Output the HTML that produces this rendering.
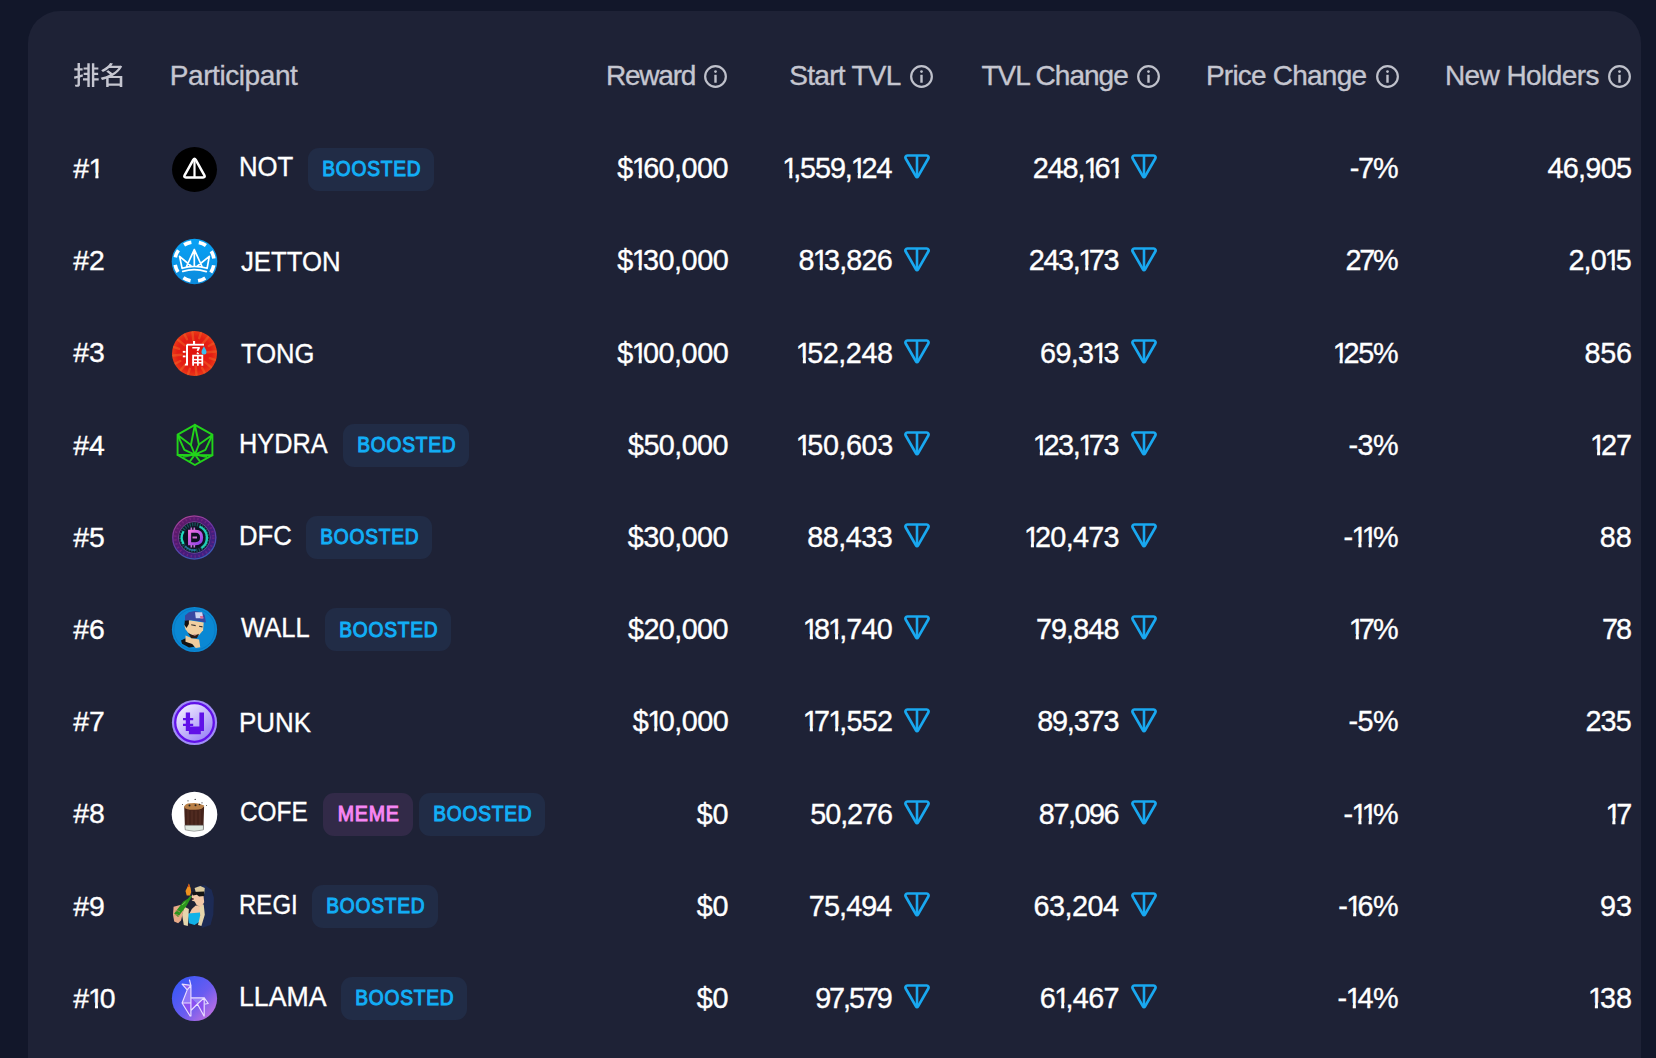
<!DOCTYPE html><html><head><meta charset="utf-8"><style>
html,body{margin:0;padding:0}
body{width:1656px;height:1058px;overflow:hidden;background:#12172a;position:relative;font-family:"Liberation Sans",sans-serif}
.card{position:absolute;left:27.5px;top:11px;width:1613px;height:1200px;background:#1e2236;border-radius:32px}
.t{position:absolute;white-space:nowrap;transform-origin:0 0;-webkit-text-stroke:0.35px currentColor;line-height:28px;height:28px;color:#fff}
.h{font-size:28px;color:#c5c6d0}
.rk{font-size:28.4px}
.nm{font-size:28px}
.num{font-size:28.8px}
i.o{font-style:normal;display:inline-block;margin:0 -4.1px 0 -1.0px}
svg{position:absolute;overflow:visible}
.bd span{display:inline-block;transform-origin:50% 50%;position:relative;top:-0.8px}
.bd{position:absolute;height:43px;border-radius:11px;font-size:22px;line-height:43px;font-weight:normal;-webkit-text-stroke:1.1px currentColor;letter-spacing:0.9px;text-indent:0.9px;text-align:center;white-space:nowrap}
.bb{width:126.2px;background:#212c46;color:#12aef6}
.bm{width:90.3px;background:#322a48;color:#f786f4}
</style></head><body><div class="card"></div>
<svg role="img" aria-label="排名" style="left:74.2px;top:63px" width="48.3" height="24.1" viewBox="37 32 1816 933" preserveAspectRatio="none"><path d="M170 36V233H49V321H170V523L37 556L53 648L170 616V853C170 866 166 870 153 871C142 871 103 871 65 870C76 894 88 932 92 955C155 955 196 953 224 938C252 924 261 900 261 853V590L374 558L362 472L261 499V321H361V233H261V36ZM376 622V707H538V963H629V45H538V202H397V285H538V412H400V495H538V622ZM710 45V965H801V710H965V624H801V495H945V412H801V285H953V202H801V45Z M1251 362C1296 395 1350 439 1392 477C1281 534 1159 575 1039 599C1056 620 1078 661 1088 686C1141 674 1194 658 1246 640V963H1340V915H1756V964H1853V531H1488C1642 442 1773 322 1850 169L1785 130L1769 135H1442C1464 108 1484 81 1503 54L1396 32C1336 127 1223 233 1060 308C1081 325 1111 360 1125 383C1217 335 1294 280 1359 221H1708C1652 301 1572 370 1480 428C1435 388 1374 342 1325 308ZM1756 829H1340V617H1756Z" fill="#c5c6d0"/></svg>
<svg style="left:703.90px;top:65px" width="23" height="23" viewBox="0 0 23 23"><circle cx="11.5" cy="11.5" r="10.35" fill="none" stroke="#bfc1cb" stroke-width="2.2"/><rect x="10.3" y="9.8" width="2.4" height="7.9" rx="0.3" fill="#bfc1cb"/><circle cx="11.5" cy="6.6" r="1.35" fill="#bfc1cb"/></svg>
<svg style="left:909.90px;top:65px" width="23" height="23" viewBox="0 0 23 23"><circle cx="11.5" cy="11.5" r="10.35" fill="none" stroke="#bfc1cb" stroke-width="2.2"/><rect x="10.3" y="9.8" width="2.4" height="7.9" rx="0.3" fill="#bfc1cb"/><circle cx="11.5" cy="6.6" r="1.35" fill="#bfc1cb"/></svg>
<svg style="left:1136.60px;top:65px" width="23" height="23" viewBox="0 0 23 23"><circle cx="11.5" cy="11.5" r="10.35" fill="none" stroke="#bfc1cb" stroke-width="2.2"/><rect x="10.3" y="9.8" width="2.4" height="7.9" rx="0.3" fill="#bfc1cb"/><circle cx="11.5" cy="6.6" r="1.35" fill="#bfc1cb"/></svg>
<svg style="left:1375.70px;top:65px" width="23" height="23" viewBox="0 0 23 23"><circle cx="11.5" cy="11.5" r="10.35" fill="none" stroke="#bfc1cb" stroke-width="2.2"/><rect x="10.3" y="9.8" width="2.4" height="7.9" rx="0.3" fill="#bfc1cb"/><circle cx="11.5" cy="6.6" r="1.35" fill="#bfc1cb"/></svg>
<svg style="left:1607.70px;top:65px" width="23" height="23" viewBox="0 0 23 23"><circle cx="11.5" cy="11.5" r="10.35" fill="none" stroke="#bfc1cb" stroke-width="2.2"/><rect x="10.3" y="9.8" width="2.4" height="7.9" rx="0.3" fill="#bfc1cb"/><circle cx="11.5" cy="6.6" r="1.35" fill="#bfc1cb"/></svg>
<div class="t h" style="left:169.79px;top:61.90px;letter-spacing:-0.423px">Participant</div>
<div class="t h" style="left:605.95px;top:61.90px;letter-spacing:-1.203px">Reward</div>
<div class="t h" style="left:789.34px;top:61.90px;letter-spacing:-0.712px">Start TVL</div>
<div class="t h" style="left:981.47px;top:61.90px;letter-spacing:-0.990px">TVL Change</div>
<div class="t h" style="left:1205.95px;top:61.90px;letter-spacing:-0.780px">Price Change</div>
<div class="t h" style="left:1444.95px;top:61.90px;letter-spacing:-0.583px">New Holders</div>
<div class="t rk" style="left:73.21px;top:154.00px;letter-spacing:0.546px">#<i class="o" style="clip-path:polygon(-6px -6px,22px -6px,22px 18.72px,9.90px 18.72px,9.90px 40px,6.89px 40px,6.89px 18.72px,-6px 18.72px)">1</i></div>
<div class="t nm" style="left:238.86px;top:153.00px;transform:scaleX(0.9191)">NOT</div>
<div class="t num" style="left:617.27px;top:154.20px;letter-spacing:-0.533px">$<i class="o" style="clip-path:polygon(-6px -6px,22px -6px,22px 18.83px,10.04px 18.83px,10.04px 40px,6.99px 40px,6.99px 18.83px,-6px 18.83px)">1</i>60,000</div>
<div class="t num" style="left:783.31px;top:154.20px;letter-spacing:-1.086px"><i class="o" style="clip-path:polygon(-6px -6px,22px -6px,22px 18.83px,10.04px 18.83px,10.04px 40px,6.99px 40px,6.99px 18.83px,-6px 18.83px)">1</i>,559,<i class="o" style="clip-path:polygon(-6px -6px,22px -6px,22px 18.83px,10.04px 18.83px,10.04px 40px,6.99px 40px,6.99px 18.83px,-6px 18.83px)">1</i>24</div>
<div class="t num" style="left:1032.66px;top:154.20px;letter-spacing:-1.039px">248,<i class="o" style="clip-path:polygon(-6px -6px,22px -6px,22px 18.83px,10.04px 18.83px,10.04px 40px,6.99px 40px,6.99px 18.83px,-6px 18.83px)">1</i>6<i class="o" style="clip-path:polygon(-6px -6px,22px -6px,22px 18.83px,10.04px 18.83px,10.04px 40px,6.99px 40px,6.99px 18.83px,-6px 18.83px)">1</i></div>
<div class="t num" style="left:1349.73px;top:154.20px;letter-spacing:-1.192px">-7%</div>
<div class="t num" style="left:1547.45px;top:154.20px;letter-spacing:-0.713px">46,905</div>
<div class="t rk" style="left:73.21px;top:246.19px;letter-spacing:0.000px">#2</div>
<div class="t nm" style="left:241.09px;top:247.69px;transform:scaleX(0.9194)">JETTON</div>
<div class="t num" style="left:617.16px;top:246.39px;letter-spacing:-0.501px">$<i class="o" style="clip-path:polygon(-6px -6px,22px -6px,22px 18.83px,10.04px 18.83px,10.04px 40px,6.99px 40px,6.99px 18.83px,-6px 18.83px)">1</i>30,000</div>
<div class="t num" style="left:798.56px;top:246.39px;letter-spacing:-0.791px">8<i class="o" style="clip-path:polygon(-6px -6px,22px -6px,22px 18.83px,10.04px 18.83px,10.04px 40px,6.99px 40px,6.99px 18.83px,-6px 18.83px)">1</i>3,826</div>
<div class="t num" style="left:1028.83px;top:246.39px;letter-spacing:-1.400px">243,<i class="o" style="clip-path:polygon(-6px -6px,22px -6px,22px 18.83px,10.04px 18.83px,10.04px 40px,6.99px 40px,6.99px 18.83px,-6px 18.83px)">1</i>73</div>
<div class="t num" style="left:1345.39px;top:246.39px;letter-spacing:-2.152px">27%</div>
<div class="t num" style="left:1568.53px;top:246.39px;letter-spacing:-0.926px">2,0<i class="o" style="clip-path:polygon(-6px -6px,22px -6px,22px 18.83px,10.04px 18.83px,10.04px 40px,6.99px 40px,6.99px 18.83px,-6px 18.83px)">1</i>5</div>
<div class="t rk" style="left:73.21px;top:338.38px;letter-spacing:0.000px">#3</div>
<div class="t nm" style="left:241.10px;top:339.88px;transform:scaleX(0.9135)">TONG</div>
<div class="t num" style="left:617.16px;top:338.58px;letter-spacing:-0.501px">$<i class="o" style="clip-path:polygon(-6px -6px,22px -6px,22px 18.83px,10.04px 18.83px,10.04px 40px,6.99px 40px,6.99px 18.83px,-6px 18.83px)">1</i>00,000</div>
<div class="t num" style="left:796.86px;top:338.58px;letter-spacing:-0.485px"><i class="o" style="clip-path:polygon(-6px -6px,22px -6px,22px 18.83px,10.04px 18.83px,10.04px 40px,6.99px 40px,6.99px 18.83px,-6px 18.83px)">1</i>52,248</div>
<div class="t num" style="left:1040.10px;top:338.58px;letter-spacing:-0.730px">69,3<i class="o" style="clip-path:polygon(-6px -6px,22px -6px,22px 18.83px,10.04px 18.83px,10.04px 40px,6.99px 40px,6.99px 18.83px,-6px 18.83px)">1</i>3</div>
<div class="t num" style="left:1333.63px;top:338.58px;letter-spacing:-1.179px"><i class="o" style="clip-path:polygon(-6px -6px,22px -6px,22px 18.83px,10.04px 18.83px,10.04px 40px,6.99px 40px,6.99px 18.83px,-6px 18.83px)">1</i>25%</div>
<div class="t num" style="left:1584.45px;top:338.58px;letter-spacing:-0.206px">856</div>
<div class="t rk" style="left:73.21px;top:430.57px;letter-spacing:0.000px">#4</div>
<div class="t nm" style="left:239.47px;top:429.57px;transform:scaleX(0.9042)">HYDRA</div>
<div class="t num" style="left:628.03px;top:430.77px;letter-spacing:-0.595px">$50,000</div>
<div class="t num" style="left:796.86px;top:430.77px;letter-spacing:-0.452px"><i class="o" style="clip-path:polygon(-6px -6px,22px -6px,22px 18.83px,10.04px 18.83px,10.04px 40px,6.99px 40px,6.99px 18.83px,-6px 18.83px)">1</i>50,603</div>
<div class="t num" style="left:1033.83px;top:430.77px;letter-spacing:-1.375px"><i class="o" style="clip-path:polygon(-6px -6px,22px -6px,22px 18.83px,10.04px 18.83px,10.04px 40px,6.99px 40px,6.99px 18.83px,-6px 18.83px)">1</i>23,<i class="o" style="clip-path:polygon(-6px -6px,22px -6px,22px 18.83px,10.04px 18.83px,10.04px 40px,6.99px 40px,6.99px 18.83px,-6px 18.83px)">1</i>73</div>
<div class="t num" style="left:1348.40px;top:430.77px;letter-spacing:-0.462px">-3%</div>
<div class="t num" style="left:1591.11px;top:430.77px;letter-spacing:-1.058px"><i class="o" style="clip-path:polygon(-6px -6px,22px -6px,22px 18.83px,10.04px 18.83px,10.04px 40px,6.99px 40px,6.99px 18.83px,-6px 18.83px)">1</i>27</div>
<div class="t rk" style="left:73.21px;top:522.76px;letter-spacing:0.000px">#5</div>
<div class="t nm" style="left:239.04px;top:521.76px;transform:scaleX(0.9167)">DFC</div>
<div class="t num" style="left:627.76px;top:522.96px;letter-spacing:-0.547px">$30,000</div>
<div class="t num" style="left:807.17px;top:522.96px;letter-spacing:-0.483px">88,433</div>
<div class="t num" style="left:1024.90px;top:522.96px;letter-spacing:-0.742px"><i class="o" style="clip-path:polygon(-6px -6px,22px -6px,22px 18.83px,10.04px 18.83px,10.04px 40px,6.99px 40px,6.99px 18.83px,-6px 18.83px)">1</i>20,473</div>
<div class="t num" style="left:1343.52px;top:522.96px;letter-spacing:-0.688px">-<i class="o" style="clip-path:polygon(-6px -6px,22px -6px,22px 18.83px,10.04px 18.83px,10.04px 40px,6.99px 40px,6.99px 18.83px,-6px 18.83px)">1</i><i class="o" style="clip-path:polygon(-6px -6px,22px -6px,22px 18.83px,10.04px 18.83px,10.04px 40px,6.99px 40px,6.99px 18.83px,-6px 18.83px)">1</i>%</div>
<div class="t num" style="left:1599.87px;top:522.96px;letter-spacing:-0.067px">88</div>
<div class="t rk" style="left:73.21px;top:614.95px;letter-spacing:0.000px">#6</div>
<div class="t nm" style="left:241.10px;top:613.95px;transform:scaleX(0.9119)">WALL</div>
<div class="t num" style="left:628.03px;top:615.15px;letter-spacing:-0.595px">$20,000</div>
<div class="t num" style="left:803.84px;top:615.15px;letter-spacing:-0.845px"><i class="o" style="clip-path:polygon(-6px -6px,22px -6px,22px 18.83px,10.04px 18.83px,10.04px 40px,6.99px 40px,6.99px 18.83px,-6px 18.83px)">1</i>8<i class="o" style="clip-path:polygon(-6px -6px,22px -6px,22px 18.83px,10.04px 18.83px,10.04px 40px,6.99px 40px,6.99px 18.83px,-6px 18.83px)">1</i>,740</div>
<div class="t num" style="left:1035.90px;top:615.15px;letter-spacing:-0.909px">79,848</div>
<div class="t num" style="left:1349.77px;top:615.15px;letter-spacing:-1.904px"><i class="o" style="clip-path:polygon(-6px -6px,22px -6px,22px 18.83px,10.04px 18.83px,10.04px 40px,6.99px 40px,6.99px 18.83px,-6px 18.83px)">1</i>7%</div>
<div class="t num" style="left:1602.09px;top:615.15px;letter-spacing:-2.186px">78</div>
<div class="t rk" style="left:73.21px;top:707.14px;letter-spacing:0.000px">#7</div>
<div class="t nm" style="left:238.87px;top:708.64px;transform:scaleX(0.9258)">PUNK</div>
<div class="t num" style="left:632.79px;top:707.34px;letter-spacing:-0.512px">$<i class="o" style="clip-path:polygon(-6px -6px,22px -6px,22px 18.83px,10.04px 18.83px,10.04px 40px,6.99px 40px,6.99px 18.83px,-6px 18.83px)">1</i>0,000</div>
<div class="t num" style="left:803.84px;top:707.34px;letter-spacing:-0.800px"><i class="o" style="clip-path:polygon(-6px -6px,22px -6px,22px 18.83px,10.04px 18.83px,10.04px 40px,6.99px 40px,6.99px 18.83px,-6px 18.83px)">1</i>7<i class="o" style="clip-path:polygon(-6px -6px,22px -6px,22px 18.83px,10.04px 18.83px,10.04px 40px,6.99px 40px,6.99px 18.83px,-6px 18.83px)">1</i>,552</div>
<div class="t num" style="left:1037.17px;top:707.34px;letter-spacing:-1.167px">89,373</div>
<div class="t num" style="left:1348.40px;top:707.34px;letter-spacing:-0.462px">-5%</div>
<div class="t num" style="left:1585.39px;top:707.34px;letter-spacing:-0.832px">235</div>
<div class="t rk" style="left:73.21px;top:799.33px;letter-spacing:0.000px">#8</div>
<div class="t nm" style="left:240.27px;top:798.33px;transform:scaleX(0.8707)">COFE</div>
<div class="t num" style="left:696.67px;top:799.53px;letter-spacing:-0.135px">$0</div>
<div class="t num" style="left:810.36px;top:799.53px;letter-spacing:-1.093px">50,276</div>
<div class="t num" style="left:1038.87px;top:799.53px;letter-spacing:-1.494px">87,096</div>
<div class="t num" style="left:1343.52px;top:799.53px;letter-spacing:-0.688px">-<i class="o" style="clip-path:polygon(-6px -6px,22px -6px,22px 18.83px,10.04px 18.83px,10.04px 40px,6.99px 40px,6.99px 18.83px,-6px 18.83px)">1</i><i class="o" style="clip-path:polygon(-6px -6px,22px -6px,22px 18.83px,10.04px 18.83px,10.04px 40px,6.99px 40px,6.99px 18.83px,-6px 18.83px)">1</i>%</div>
<div class="t num" style="left:1606.39px;top:799.53px;letter-spacing:-1.151px"><i class="o" style="clip-path:polygon(-6px -6px,22px -6px,22px 18.83px,10.04px 18.83px,10.04px 40px,6.99px 40px,6.99px 18.83px,-6px 18.83px)">1</i>7</div>
<div class="t rk" style="left:73.21px;top:891.52px;letter-spacing:0.000px">#9</div>
<div class="t nm" style="left:239.43px;top:890.52px;transform:scaleX(0.8587)">REGI</div>
<div class="t num" style="left:696.67px;top:891.72px;letter-spacing:-0.135px">$0</div>
<div class="t num" style="left:808.86px;top:891.72px;letter-spacing:-0.920px">75,494</div>
<div class="t num" style="left:1033.42px;top:891.72px;letter-spacing:-0.495px">63,204</div>
<div class="t num" style="left:1338.22px;top:891.72px;letter-spacing:-0.614px">-<i class="o" style="clip-path:polygon(-6px -6px,22px -6px,22px 18.83px,10.04px 18.83px,10.04px 40px,6.99px 40px,6.99px 18.83px,-6px 18.83px)">1</i>6%</div>
<div class="t num" style="left:1600.07px;top:891.72px;letter-spacing:-0.062px">93</div>
<div class="t rk" style="left:73.21px;top:983.71px;letter-spacing:0.085px">#<i class="o" style="clip-path:polygon(-6px -6px,22px -6px,22px 18.72px,9.90px 18.72px,9.90px 40px,6.89px 40px,6.89px 18.72px,-6px 18.72px)">1</i>0</div>
<div class="t nm" style="left:239.12px;top:982.71px;transform:scaleX(0.9525)">LLAMA</div>
<div class="t num" style="left:696.67px;top:983.91px;letter-spacing:-0.135px">$0</div>
<div class="t num" style="left:815.13px;top:983.91px;letter-spacing:-2.086px">97,579</div>
<div class="t num" style="left:1039.83px;top:983.91px;letter-spacing:-0.641px">6<i class="o" style="clip-path:polygon(-6px -6px,22px -6px,22px 18.83px,10.04px 18.83px,10.04px 40px,6.99px 40px,6.99px 18.83px,-6px 18.83px)">1</i>,467</div>
<div class="t num" style="left:1337.52px;top:983.91px;letter-spacing:-0.322px">-<i class="o" style="clip-path:polygon(-6px -6px,22px -6px,22px 18.83px,10.04px 18.83px,10.04px 40px,6.99px 40px,6.99px 18.83px,-6px 18.83px)">1</i>4%</div>
<div class="t num" style="left:1588.90px;top:983.91px;letter-spacing:0.050px"><i class="o" style="clip-path:polygon(-6px -6px,22px -6px,22px 18.83px,10.04px 18.83px,10.04px 40px,6.99px 40px,6.99px 18.83px,-6px 18.83px)">1</i>38</div>
<svg style="left:171.90px;top:146.50px" width="45" height="45" viewBox="0 0 45 45"><circle cx="22.5" cy="22.5" r="22.5" fill="#000"/><path d="M21.2 12.9Q22.5 10.7 23.8 12.9L32.4 28.3Q33.4 30.4 31.1 30.4H13.9Q11.6 30.4 12.6 28.3Z" fill="none" stroke="#fff" stroke-width="2.5" stroke-linejoin="round"/><path d="M22.5 12.5V30.4" stroke="#fff" stroke-width="2.2"/></svg>
<svg style="left:903.5px;top:154.4px" width="26" height="25" viewBox="0 0 26 25"><path d="M3.3 1.5H22.7C24.3 1.5 25.1 3.2 24.3 4.5L13.9 22.7C13.5 23.4 12.5 23.4 12.1 22.7L1.7 4.5C0.9 3.2 1.7 1.5 3.3 1.5Z" fill="none" stroke="#19a8f0" stroke-width="2.7" stroke-linejoin="round"/><path d="M13 2V22.8" stroke="#19a8f0" stroke-width="2.6"/></svg>
<svg style="left:1130.5px;top:154.4px" width="26" height="25" viewBox="0 0 26 25"><path d="M3.3 1.5H22.7C24.3 1.5 25.1 3.2 24.3 4.5L13.9 22.7C13.5 23.4 12.5 23.4 12.1 22.7L1.7 4.5C0.9 3.2 1.7 1.5 3.3 1.5Z" fill="none" stroke="#19a8f0" stroke-width="2.7" stroke-linejoin="round"/><path d="M13 2V22.8" stroke="#19a8f0" stroke-width="2.6"/></svg>
<div class="bd bb" style="left:308px;top:147.50px"><span style="transform:scaleX(0.8700)">BOOSTED</span></div>
<svg style="left:171.90px;top:238.69px" width="45" height="45" viewBox="0 0 45 45"><defs><linearGradient id="jg" x1="0" y1="0" x2="0" y2="1"><stop offset="0" stop-color="#08a2f6"/><stop offset="1" stop-color="#0b8bdc"/></linearGradient></defs><circle cx="22.5" cy="22.5" r="22.8" fill="url(#jg)"/><circle cx="22.5" cy="22.5" r="19.6" fill="none" stroke="#fff" stroke-width="3.6" stroke-dasharray="7.697 7.697" stroke-dashoffset="-3.848"/><path d="M7.6 17.4L10.1 29.3M7.6 17.4L19 27M22.3 10.6L14.5 27.5M22.3 10.6L30 27.5M22.3 11V26.5M37.3 17.4L35.1 29.3M37.3 17.4L25.5 27M10.1 29.3Q22.3 25.3 35.1 29.3M10.8 32.4Q22.3 28.8 34.3 32.6" fill="none" stroke="#fff" stroke-width="1.7" stroke-linecap="round" stroke-linejoin="round"/></svg>
<svg style="left:903.5px;top:246.59px" width="26" height="25" viewBox="0 0 26 25"><path d="M3.3 1.5H22.7C24.3 1.5 25.1 3.2 24.3 4.5L13.9 22.7C13.5 23.4 12.5 23.4 12.1 22.7L1.7 4.5C0.9 3.2 1.7 1.5 3.3 1.5Z" fill="none" stroke="#19a8f0" stroke-width="2.7" stroke-linejoin="round"/><path d="M13 2V22.8" stroke="#19a8f0" stroke-width="2.6"/></svg>
<svg style="left:1130.5px;top:246.59px" width="26" height="25" viewBox="0 0 26 25"><path d="M3.3 1.5H22.7C24.3 1.5 25.1 3.2 24.3 4.5L13.9 22.7C13.5 23.4 12.5 23.4 12.1 22.7L1.7 4.5C0.9 3.2 1.7 1.5 3.3 1.5Z" fill="none" stroke="#19a8f0" stroke-width="2.7" stroke-linejoin="round"/><path d="M13 2V22.8" stroke="#19a8f0" stroke-width="2.6"/></svg>
<svg style="left:171.90px;top:330.88px" width="45" height="45" viewBox="0 0 45 45"><defs><radialGradient id="tg" cx="0.5" cy="0.5" r="0.5"><stop offset="0" stop-color="#e0140e"/><stop offset="0.75" stop-color="#e41e14"/><stop offset="1" stop-color="#ea3a18"/></radialGradient></defs><circle cx="22.5" cy="22.5" r="22.5" fill="url(#tg)"/><g stroke="#f4702a" stroke-width="2.4" opacity="0.45" stroke-linecap="round"><line x1="37.8" y1="27.2" x2="43.0" y2="28.9"/><line x1="32.5" y1="30.8" x2="39.0" y2="36.2"/><line x1="30.0" y1="36.7" x2="32.5" y2="41.5"/><line x1="23.7" y1="35.4" x2="24.5" y2="43.9"/><line x1="17.8" y1="37.8" x2="16.1" y2="43.0"/><line x1="14.2" y1="32.5" x2="8.8" y2="39.0"/><line x1="8.3" y1="30.0" x2="3.5" y2="32.5"/><line x1="9.6" y1="23.7" x2="1.1" y2="24.5"/><line x1="7.2" y1="17.8" x2="2.0" y2="16.1"/><line x1="12.5" y1="14.2" x2="6.0" y2="8.8"/><line x1="15.0" y1="8.3" x2="12.5" y2="3.5"/><line x1="21.3" y1="9.6" x2="20.5" y2="1.1"/><line x1="27.2" y1="7.2" x2="28.9" y2="2.0"/><line x1="30.8" y1="12.5" x2="36.2" y2="6.0"/><line x1="36.7" y1="15.0" x2="41.5" y2="12.5"/><line x1="35.4" y1="21.3" x2="43.9" y2="20.5"/></g><g fill="#fff"><rect x="21.0" y="10.0" width="2.1" height="3.2"/><rect x="14.7" y="12.8" width="17.3" height="1.8"/><path d="M14.0 13.8H16.0V34.4H14.2L12.6 34.6L13.2 32.8L14.0 32.5Z"/><rect x="10.8" y="19.9" width="2.7" height="1.8"/><rect x="10.8" y="24.5" width="2.7" height="1.8"/><path d="M20.3 16.0H27.8V17.4L26.2 20.2L24.6 19.6L25.6 17.6H20.3Z"/><path d="M25.4 21.0L27.2 22.6L26.0 23.6L24.4 22.2Z"/><path d="M20.2 23.8H31.2V34.8H29.4V25.6H26.7V34.8H25.0V25.6H22.0V34.8H20.2Z"/><rect x="20.5" y="27.9" width="10.3" height="1.5"/><rect x="20.5" y="31.0" width="10.3" height="1.5"/></g><path d="M32.0 15.3C33.7 18.3 34.5 19.8 34.5 20.9A2.5 2.5 0 0 1 29.5 20.9C29.5 19.8 30.3 18.3 32.0 15.3Z" fill="#3cc0f0"/></svg>
<svg style="left:903.5px;top:338.78000000000003px" width="26" height="25" viewBox="0 0 26 25"><path d="M3.3 1.5H22.7C24.3 1.5 25.1 3.2 24.3 4.5L13.9 22.7C13.5 23.4 12.5 23.4 12.1 22.7L1.7 4.5C0.9 3.2 1.7 1.5 3.3 1.5Z" fill="none" stroke="#19a8f0" stroke-width="2.7" stroke-linejoin="round"/><path d="M13 2V22.8" stroke="#19a8f0" stroke-width="2.6"/></svg>
<svg style="left:1130.5px;top:338.78000000000003px" width="26" height="25" viewBox="0 0 26 25"><path d="M3.3 1.5H22.7C24.3 1.5 25.1 3.2 24.3 4.5L13.9 22.7C13.5 23.4 12.5 23.4 12.1 22.7L1.7 4.5C0.9 3.2 1.7 1.5 3.3 1.5Z" fill="none" stroke="#19a8f0" stroke-width="2.7" stroke-linejoin="round"/><path d="M13 2V22.8" stroke="#19a8f0" stroke-width="2.6"/></svg>
<svg style="left:171.90px;top:423.07px" width="45" height="45" viewBox="0 0 45 45"><g fill="none" stroke="#22d41a" stroke-width="1.9" stroke-linejoin="round" stroke-linecap="round"><path d="M22.9 1.8L40.4 11.6V32.2L22.9 42L5.6 32V11.6Z"/><path d="M22.9 1.8L18.9 22L22.9 31.6L26.9 21.5Z"/><path d="M6 12.3L18.9 22M6.3 13.5L12.4 26.8L22.9 31.6M39.9 12.3L26.9 21.5M39.6 13.5L33.4 26.8L22.9 31.6M5.6 32L40.4 32.2M22.9 31.6L17.6 38.8M22.9 31.6L28.2 38.8M11.5 33.8L22.9 31.6L34.3 33.8"/></g></svg>
<svg style="left:903.5px;top:430.97px" width="26" height="25" viewBox="0 0 26 25"><path d="M3.3 1.5H22.7C24.3 1.5 25.1 3.2 24.3 4.5L13.9 22.7C13.5 23.4 12.5 23.4 12.1 22.7L1.7 4.5C0.9 3.2 1.7 1.5 3.3 1.5Z" fill="none" stroke="#19a8f0" stroke-width="2.7" stroke-linejoin="round"/><path d="M13 2V22.8" stroke="#19a8f0" stroke-width="2.6"/></svg>
<svg style="left:1130.5px;top:430.97px" width="26" height="25" viewBox="0 0 26 25"><path d="M3.3 1.5H22.7C24.3 1.5 25.1 3.2 24.3 4.5L13.9 22.7C13.5 23.4 12.5 23.4 12.1 22.7L1.7 4.5C0.9 3.2 1.7 1.5 3.3 1.5Z" fill="none" stroke="#19a8f0" stroke-width="2.7" stroke-linejoin="round"/><path d="M13 2V22.8" stroke="#19a8f0" stroke-width="2.6"/></svg>
<div class="bd bb" style="left:342.6px;top:424.07px"><span style="transform:scaleX(0.8700)">BOOSTED</span></div>
<svg style="left:171.90px;top:515.26px" width="45" height="45" viewBox="0 0 45 45"><defs><linearGradient id="dg" x1="0" y1="0" x2="1" y2="1"><stop offset="0" stop-color="#6a1c62"/><stop offset="0.5" stop-color="#4a1a78"/><stop offset="1" stop-color="#34288a"/></linearGradient><linearGradient id="dD" x1="0" y1="0" x2="1" y2="1"><stop offset="0" stop-color="#f070e0"/><stop offset="1" stop-color="#8a40e8"/></linearGradient><linearGradient id="de" x1="0" y1="0" x2="0.3" y2="1"><stop offset="0" stop-color="#d05aa0"/><stop offset="0.5" stop-color="#7040b0"/><stop offset="1" stop-color="#3a70c0"/></linearGradient></defs><circle cx="22.3" cy="22.5" r="22.3" fill="url(#dg)"/><circle cx="22.3" cy="22.5" r="21.5" fill="none" stroke="url(#de)" stroke-width="1.1" opacity="0.8"/><circle cx="22.3" cy="22.5" r="19" fill="none" stroke="#8a2a8a" stroke-width="2.5" stroke-dasharray="1.5 2.5" opacity="0.5"/><circle cx="22.3" cy="22.5" r="15.8" fill="none" stroke="#9a78b0" stroke-width="0.8" opacity="0.6"/><circle cx="22.3" cy="22.5" r="15.3" fill="#10182a"/><circle cx="22.3" cy="22.5" r="13.3" fill="none" stroke="#1a6866" stroke-width="3.6" stroke-dasharray="1.2 1.3" opacity="0.8"/><path d="M11.6 16.2A12.3 12.3 0 0 0 11.6 29" fill="none" stroke="#22dcc0" stroke-width="2.2"/><path d="M27.5 11.5A12.3 12.3 0 0 1 29.5 33" fill="none" stroke="#22ccb4" stroke-width="2.4"/><path d="M13 31A12.3 12.3 0 0 0 24 35" fill="none" stroke="#2a90c0" stroke-width="1.6" opacity="0.7"/><circle cx="22.3" cy="22.5" r="10.3" fill="#0c1020" opacity="0.9"/><path d="M17.6 16.3H23.6Q29.6 16.3 29.6 22.5Q29.6 28.7 23.6 28.7H17.6Z" fill="none" stroke="url(#dD)" stroke-width="3.1"/><path d="M20.5 22.5H25" stroke="#d070d0" stroke-width="2"/><path d="M19.3 12.5V15M22.3 12.5V15M19.3 30V32.5M22.3 30V32.5" stroke="#c070d0" stroke-width="1.6"/></svg>
<svg style="left:903.5px;top:523.16px" width="26" height="25" viewBox="0 0 26 25"><path d="M3.3 1.5H22.7C24.3 1.5 25.1 3.2 24.3 4.5L13.9 22.7C13.5 23.4 12.5 23.4 12.1 22.7L1.7 4.5C0.9 3.2 1.7 1.5 3.3 1.5Z" fill="none" stroke="#19a8f0" stroke-width="2.7" stroke-linejoin="round"/><path d="M13 2V22.8" stroke="#19a8f0" stroke-width="2.6"/></svg>
<svg style="left:1130.5px;top:523.16px" width="26" height="25" viewBox="0 0 26 25"><path d="M3.3 1.5H22.7C24.3 1.5 25.1 3.2 24.3 4.5L13.9 22.7C13.5 23.4 12.5 23.4 12.1 22.7L1.7 4.5C0.9 3.2 1.7 1.5 3.3 1.5Z" fill="none" stroke="#19a8f0" stroke-width="2.7" stroke-linejoin="round"/><path d="M13 2V22.8" stroke="#19a8f0" stroke-width="2.6"/></svg>
<div class="bd bb" style="left:306.3px;top:516.26px"><span style="transform:scaleX(0.8700)">BOOSTED</span></div>
<svg style="left:171.90px;top:607.45px" width="45" height="45" viewBox="0 0 45 45"><circle cx="22.5" cy="22.5" r="22.6" fill="#0a88d4"/><circle cx="22.5" cy="22.5" r="20.6" fill="none" stroke="#0874bb" stroke-width="0.7"/><path d="M9 33.5 L13.5 31.3 L21.5 38 L22.6 39.8 L17 40.5 L10.1 36.8Z" fill="#121212"/><path d="M13.5 28.4 L20.3 31.3 L27.1 32.4 L28.3 40.3 L23.7 40.9 L20.3 36.9 L13.5 34.7Z" fill="#eecb9c"/><path d="M15.8 13.1 L31.7 15.4 L31.1 23.3 L27.1 27.9 L22.6 29 L16.9 26.7 L13.5 22.2 L12.4 18.8Z" fill="#f0cfa0"/><path d="M15.8 25.6 L19 27.5 L22.5 28.6 L27.1 26.7 L24.9 31.3 L19.2 31.3Z" fill="#2a1a14"/><path d="M21.5 27.2L24.5 27.4L24 28.4L21.8 28.3Z" fill="#c08080"/><path d="M19.2 17.8L23.7 18.6M27.1 19.3L30.5 19.9" stroke="#333" stroke-width="1.1"/><path d="M12.9 13.1 L16.9 13.1 L16.9 17 L14.5 21 L12.5 18Z" fill="#151010"/><path d="M13 8.6 L16.9 5.2 L22.6 4.0 L30 5.2 L32.8 8.6 L33.9 15.4 L27.1 14.2 L19.2 13.1 L13 13.7Z" fill="#3848a0"/><path d="M23 5.2H30.2L31.3 11.3H23.8Z" fill="#e6eeff" opacity="0.85"/><path d="M28 9H31L31.4 11.4H28.4Z" fill="#e06a90"/></svg>
<svg style="left:903.5px;top:615.35px" width="26" height="25" viewBox="0 0 26 25"><path d="M3.3 1.5H22.7C24.3 1.5 25.1 3.2 24.3 4.5L13.9 22.7C13.5 23.4 12.5 23.4 12.1 22.7L1.7 4.5C0.9 3.2 1.7 1.5 3.3 1.5Z" fill="none" stroke="#19a8f0" stroke-width="2.7" stroke-linejoin="round"/><path d="M13 2V22.8" stroke="#19a8f0" stroke-width="2.6"/></svg>
<svg style="left:1130.5px;top:615.35px" width="26" height="25" viewBox="0 0 26 25"><path d="M3.3 1.5H22.7C24.3 1.5 25.1 3.2 24.3 4.5L13.9 22.7C13.5 23.4 12.5 23.4 12.1 22.7L1.7 4.5C0.9 3.2 1.7 1.5 3.3 1.5Z" fill="none" stroke="#19a8f0" stroke-width="2.7" stroke-linejoin="round"/><path d="M13 2V22.8" stroke="#19a8f0" stroke-width="2.6"/></svg>
<div class="bd bb" style="left:324.7px;top:608.45px"><span style="transform:scaleX(0.8700)">BOOSTED</span></div>
<svg style="left:171.90px;top:699.64px" width="45" height="45" viewBox="0 0 45 45"><defs><linearGradient id="pg" x1="0.2" y1="0.1" x2="0.85" y2="0.9"><stop offset="0" stop-color="#ece6ff"/><stop offset="1" stop-color="#9c86f6"/></linearGradient></defs><circle cx="22.5" cy="22.5" r="22.6" fill="#a08cf6"/><circle cx="22.5" cy="22.5" r="19" fill="url(#pg)"/><circle cx="22.5" cy="22.5" r="19.3" fill="none" stroke="#6010e8" stroke-width="2.3"/><path d="M13.8 12.4H18.05V26.6H27.4V12.4H32V31.1H28.8V34.2H16.9V31.1H13.8Z" fill="#6010e8"/><path d="M11 18H21.2V20.3H11ZM11 23.7H21.2V26H11Z" fill="#6010e8"/></svg>
<svg style="left:903.5px;top:707.5400000000001px" width="26" height="25" viewBox="0 0 26 25"><path d="M3.3 1.5H22.7C24.3 1.5 25.1 3.2 24.3 4.5L13.9 22.7C13.5 23.4 12.5 23.4 12.1 22.7L1.7 4.5C0.9 3.2 1.7 1.5 3.3 1.5Z" fill="none" stroke="#19a8f0" stroke-width="2.7" stroke-linejoin="round"/><path d="M13 2V22.8" stroke="#19a8f0" stroke-width="2.6"/></svg>
<svg style="left:1130.5px;top:707.5400000000001px" width="26" height="25" viewBox="0 0 26 25"><path d="M3.3 1.5H22.7C24.3 1.5 25.1 3.2 24.3 4.5L13.9 22.7C13.5 23.4 12.5 23.4 12.1 22.7L1.7 4.5C0.9 3.2 1.7 1.5 3.3 1.5Z" fill="none" stroke="#19a8f0" stroke-width="2.7" stroke-linejoin="round"/><path d="M13 2V22.8" stroke="#19a8f0" stroke-width="2.6"/></svg>
<svg style="left:171.90px;top:791.83px" width="45" height="45" viewBox="0 0 45 45"><circle cx="22.5" cy="22.5" r="22.8" fill="#fff"/><path d="M12.2 14.5H32.1L31.4 37.6Q22 40.2 13 37.6Z" fill="#45231a"/><path d="M16 18V35M20 18.5V36M24 18.5V36M28 18V35" stroke="#5a3226" stroke-width="1"/><path d="M12.9 33.2H31.5L31.3 37.9Q22 40.6 13.2 37.9Z" fill="#dfe8e0" stroke="#666" stroke-width="0.5"/><path d="M12 15.2Q13 11 19 11.3Q26 10.2 32.2 13.6Q31.2 18.2 22 17.8Q15 18.2 12 15.2Z" fill="#b98048"/><circle cx="17.5" cy="13.5" r="1" fill="#222"/><circle cx="23.5" cy="13.2" r="1" fill="#222"/><circle cx="27.5" cy="12.5" r="0.8" fill="#222"/><circle cx="16" cy="8.8" r="0.6" fill="#333"/><circle cx="23.2" cy="7.4" r="0.7" fill="#333"/><circle cx="30" cy="10.8" r="0.6" fill="#333"/><circle cx="10.5" cy="12.6" r="0.5" fill="#333"/><circle cx="34.5" cy="13.6" r="0.5" fill="#333"/></svg>
<svg style="left:903.5px;top:799.7299999999999px" width="26" height="25" viewBox="0 0 26 25"><path d="M3.3 1.5H22.7C24.3 1.5 25.1 3.2 24.3 4.5L13.9 22.7C13.5 23.4 12.5 23.4 12.1 22.7L1.7 4.5C0.9 3.2 1.7 1.5 3.3 1.5Z" fill="none" stroke="#19a8f0" stroke-width="2.7" stroke-linejoin="round"/><path d="M13 2V22.8" stroke="#19a8f0" stroke-width="2.6"/></svg>
<svg style="left:1130.5px;top:799.7299999999999px" width="26" height="25" viewBox="0 0 26 25"><path d="M3.3 1.5H22.7C24.3 1.5 25.1 3.2 24.3 4.5L13.9 22.7C13.5 23.4 12.5 23.4 12.1 22.7L1.7 4.5C0.9 3.2 1.7 1.5 3.3 1.5Z" fill="none" stroke="#19a8f0" stroke-width="2.7" stroke-linejoin="round"/><path d="M13 2V22.8" stroke="#19a8f0" stroke-width="2.6"/></svg>
<div class="bd bm" style="left:322.7px;top:792.83px"><span style="transform:scaleX(0.8900)">MEME</span></div>
<div class="bd bb" style="left:418.9px;top:792.83px"><span style="transform:scaleX(0.8700)">BOOSTED</span></div>
<svg style="left:171.90px;top:884.02px" width="45" height="45" viewBox="0 0 45 45"><path d="M24.9 2.3 L32.8 1.2 L39.6 5.7 L41.9 13.7 L41.3 30.7 L38.5 40.9 L30.5 43.7 L27.1 39.2 L29.4 22.8 L27.1 10.8Z" fill="#1d2b55"/><path d="M23.7 21.6 L30 22.8 L29.4 30.7 L16.9 30.7 L19.8 25.0Z" fill="#f2c6a6"/><path d="M15.8 29.6 L28.3 28.4 L27.7 37.5 L22.6 40.9 L16.9 39.2Z" fill="#12b2e8"/><path d="M12.4 22.8 L16.9 25.0 L15.8 42.0 L11.8 40.9 L10.1 30.7Z" fill="#e6d6ac"/><path d="M27.1 20.5 L31.7 20.5 L32.8 30.7 L29.4 42.0 L26 40.9 L28.3 30.7Z" fill="#e6d6ac"/><path d="M21.5 8.0 L31.1 8.0 L32.2 18.2 L29.4 22.8 L24.9 21.6 L22.6 17.6 L19.8 16.5 L20.3 14.2 L19.2 12.5 L20.9 10.3Z" fill="#f2c8a8"/><path d="M22.6 4.0 L28.3 2.1 L32.8 4.0 L32.2 9.7 L28.3 8.0 L23.7 8.0Z" fill="#dccb9e"/><path d="M20.3 8.0 L32.2 7.4 L32.2 12.0 L27.1 12.5 L24.9 10.8 L20.9 11.4Z" fill="#141414"/><path d="M19.6 14.3H21.6V15.8H19.8Z" fill="#3a1010"/><path d="M1.6 22.8 L10.1 20.5 L11.8 25.0 L9.0 36.4 L6.1 39.2 L2.2 37.5 L1.0 30.7Z" fill="#e8aa88"/><path d="M2.2 29.6 L11.3 17.6 L15.8 14.8 L18.6 11.4 L19.8 12.5 L17.5 16.5 L14.7 21.6 L6.1 33.0Z" fill="#2a961c"/><path d="M10 21L13.5 18" stroke="#7ad060" stroke-width="0.9"/><path d="M3 27Q6 26 8 28M2.5 31Q5 30 7.5 32" stroke="#c88868" stroke-width="0.8" fill="none"/><path d="M14.7 11.4 L13.5 6.9 L15.8 2.3 L16.9 -0.5 L18.6 4.0 L19.2 8.0 L18.1 11.4Z" fill="#f0921e"/><path d="M16.9 -0.5L15.6 3.2L17.8 2.8Z" fill="#d04a18"/></svg>
<svg style="left:903.5px;top:891.92px" width="26" height="25" viewBox="0 0 26 25"><path d="M3.3 1.5H22.7C24.3 1.5 25.1 3.2 24.3 4.5L13.9 22.7C13.5 23.4 12.5 23.4 12.1 22.7L1.7 4.5C0.9 3.2 1.7 1.5 3.3 1.5Z" fill="none" stroke="#19a8f0" stroke-width="2.7" stroke-linejoin="round"/><path d="M13 2V22.8" stroke="#19a8f0" stroke-width="2.6"/></svg>
<svg style="left:1130.5px;top:891.92px" width="26" height="25" viewBox="0 0 26 25"><path d="M3.3 1.5H22.7C24.3 1.5 25.1 3.2 24.3 4.5L13.9 22.7C13.5 23.4 12.5 23.4 12.1 22.7L1.7 4.5C0.9 3.2 1.7 1.5 3.3 1.5Z" fill="none" stroke="#19a8f0" stroke-width="2.7" stroke-linejoin="round"/><path d="M13 2V22.8" stroke="#19a8f0" stroke-width="2.6"/></svg>
<div class="bd bb" style="left:312.1px;top:885.02px"><span style="transform:scaleX(0.8700)">BOOSTED</span></div>
<svg style="left:171.90px;top:976.21px" width="45" height="45" viewBox="0 0 45 45"><defs><linearGradient id="lg" x1="0.1" y1="0.15" x2="0.9" y2="0.9"><stop offset="0" stop-color="#3a58f8"/><stop offset="0.55" stop-color="#6a5cf0"/><stop offset="1" stop-color="#c070e0"/></linearGradient></defs><circle cx="22.5" cy="22.5" r="22.6" fill="url(#lg)"/><path d="M10.1 8.2L19 9.4L15.2 13.9Z" fill="#9060f0"/><path d="M15.2 13.9L18.9 9.4V27H10.1Z" fill="#a080f8" opacity="0.8"/><path d="M10.1 27H18.9L18.1 40Z" fill="#8a50f0"/><path d="M18.9 21.9H32.2L25.4 28Z" fill="#a088f8" opacity="0.8"/><path d="M18.9 21.9L25.4 28L18.9 34.5Z" fill="#8a50f0"/><path d="M25.4 28L32.2 21.9L32.2 40Z" fill="#8a50f0"/><path d="M17.5 4L18.9 9.4M10.1 8.2L19 9.4L15.2 13.9ZM15.2 13.9L10.1 27L18.1 40M18.9 9.4V40M18.9 21.9H32.2L36.2 27.5L33.5 28M32.2 21.9V40M18.9 34.5L25.4 28M32.2 21.9L25.4 28L32 40M10.1 27H18.9" fill="none" stroke="#e8dcff" stroke-width="1.2" stroke-linejoin="round" stroke-linecap="round"/></svg>
<svg style="left:903.5px;top:984.11px" width="26" height="25" viewBox="0 0 26 25"><path d="M3.3 1.5H22.7C24.3 1.5 25.1 3.2 24.3 4.5L13.9 22.7C13.5 23.4 12.5 23.4 12.1 22.7L1.7 4.5C0.9 3.2 1.7 1.5 3.3 1.5Z" fill="none" stroke="#19a8f0" stroke-width="2.7" stroke-linejoin="round"/><path d="M13 2V22.8" stroke="#19a8f0" stroke-width="2.6"/></svg>
<svg style="left:1130.5px;top:984.11px" width="26" height="25" viewBox="0 0 26 25"><path d="M3.3 1.5H22.7C24.3 1.5 25.1 3.2 24.3 4.5L13.9 22.7C13.5 23.4 12.5 23.4 12.1 22.7L1.7 4.5C0.9 3.2 1.7 1.5 3.3 1.5Z" fill="none" stroke="#19a8f0" stroke-width="2.7" stroke-linejoin="round"/><path d="M13 2V22.8" stroke="#19a8f0" stroke-width="2.6"/></svg>
<div class="bd bb" style="left:341px;top:977.21px"><span style="transform:scaleX(0.8700)">BOOSTED</span></div></body></html>
